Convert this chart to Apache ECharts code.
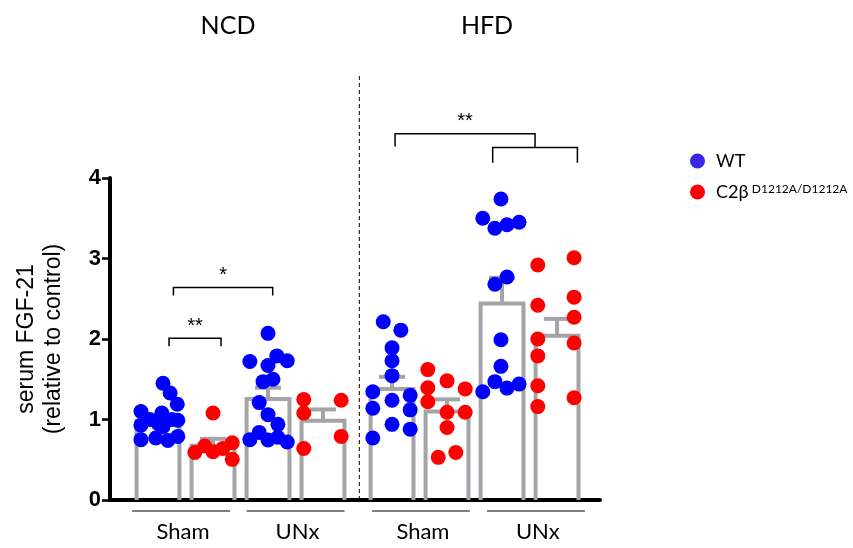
<!DOCTYPE html>
<html>
<head>
<meta charset="utf-8">
<script src="https://cdn.jsdelivr.net/npm/echarts@6/dist/echarts.min.js"></script>
<style>
  html, body { margin: 0; padding: 0; background: #fff; }
  #main { width: 853px; height: 548px; }
</style>
</head>
<body>
<div id="main"></div>
<script>
// groups, left to right: NCD Sham WT, NCD Sham C2b, NCD UNx WT, NCD UNx C2b, HFD ...
var diets = ['NCD', 'HFD'];
var surgeries = ['Sham', 'UNx', 'Sham', 'UNx'];
var genotypes = ['WT', 'C2β'];

// bar heights (mean) and error (sem)
var means = [0.98, 0.675, 1.255, 0.985, 1.38, 1.10, 2.44, 2.04];
var sems  = [0.07, 0.085, 0.14, 0.14, 0.15, 0.15, 0.32, 0.21];

// individual animals per group
var g1 = [1.45, 1.33, 1.19, 1.10, 1.00, 1.08, 0.93, 0.91, 1.00, 0.99, 0.95, 0.75, 0.77, 0.74, 0.79];
var g2 = [1.08, 0.59, 0.67, 0.60, 0.64, 0.71, 0.505];
var g3 = [2.07, 1.72, 1.79, 1.73, 1.67, 1.47, 1.50, 1.21, 1.06, 0.94, 0.75, 0.84, 0.745, 0.78, 0.72];
var g4 = [1.25, 1.24, 1.08, 0.79, 0.64];
var g5 = [2.215, 2.11, 1.89, 1.73, 1.545, 1.345, 1.30, 1.24, 1.14, 1.12, 0.94, 0.88, 0.77];
var g6 = [1.62, 1.48, 1.38, 1.395, 1.22, 1.09, 1.09, 0.90, 0.53, 0.59];
var g7 = [3.74, 3.50, 3.375, 3.42, 3.45, 2.68, 2.77, 1.99, 1.66, 1.47, 1.345, 1.39, 1.44];
var g8 = [2.92, 3.01, 2.42, 2.52, 2.27, 2.00, 1.95, 1.79, 1.42, 1.16, 1.27];

// horizontal scatter of each dot (in bar widths)
var j1 = [0.09, 0.22, 0.35, -0.31, -0.15, 0.07, -0.31, 0.09, 0.25, 0.36, 0, -0.31, -0.04, 0.18, 0.36];
var j2 = [0, -0.33, -0.15, 0, 0.18, 0.35, 0.35];
var j3 = [0, -0.33, 0.16, 0.35, 0, -0.09, 0.09, -0.16, 0, 0.18, -0.33, -0.16, 0, 0.18, 0.35];
var j4 = [-0.35, 0.33, -0.35, 0.33, -0.35];
var j5 = [-0.16, 0.16, 0, 0, 0, -0.35, 0.33, 0, -0.35, 0.33, 0, 0.33, -0.35];
var j6 = [-0.35, 0, 0.33, -0.35, -0.35, 0, 0.33, 0, -0.16, 0.16];
var j7 = [-0.02, -0.35, -0.13, 0.09, 0.31, -0.13, 0.09, -0.02, -0.02, -0.13, -0.35, 0.09, 0.31];
var j8 = [-0.35, 0.31, -0.35, 0.31, 0.31, -0.35, 0.31, -0.35, -0.35, -0.35, 0.31];

var points = [g1, g2, g3, g4, g5, g6, g7, g8];
var jitter = [j1, j2, j3, j4, j5, j6, j7, j8];

// significance brackets: x from bar, x to bar, height, label
var sig = [
  { from: 0.2, to: 1.145, y: 2.01, drop: 0.1, label: '**' },
  { from: 0.28, to: 2.085, y: 2.64, drop: 0.1, label: '*' },
  { from: 6.085, to: 7.625, y: 4.38, drop: 0.19, label: '' },
  { from: 4.31, to: 6.855, y: 4.55, drop: 0.16, label: '**', dropRight: 0.17 }
];

var gray = '#a4a4a8';
var gap = 0.255;      // extra space between diets
var barHalf = 0.39;
function xPos(i) { return i + (i >= 4 ? gap : 0); }

var barData = [], wtData = [], koData = [];
for (var i = 0; i < means.length; i++) {
  barData.push([xPos(i), means[i], sems[i]]);
  for (var k = 0; k < points[i].length; k++) {
    var pt = [xPos(i) + jitter[i][k], points[i][k]];
    if (i % 2 === 0) wtData.push(pt); else koData.push(pt);
  }
}

function renderBar(params, api) {
  var x = api.value(0), m = api.value(1), s = api.value(2);
  var a = api.coord([x - barHalf, 0]);
  var b = api.coord([x + barHalf, m]);
  var c = api.coord([x, m]);
  var e = api.coord([x, m + s]);
  var ls = { stroke: gray, lineWidth: 4, fill: 'none' };
  return {
    type: 'group',
    children: [
      { type: 'polyline', shape: { points: [[a[0], a[1]], [a[0], b[1]], [b[0], b[1]], [b[0], a[1]]] }, style: ls },
      { type: 'line', shape: { x1: c[0], y1: c[1], x2: e[0], y2: e[1] }, style: ls },
      { type: 'line', shape: { x1: e[0] - 13, y1: e[1], x2: e[0] + 13, y2: e[1] }, style: ls }
    ]
  };
}

// brackets, group lines under the axis, dashed divider
function renderNotes(params, api) {
  if (params.dataIndex > 0) return;
  var kids = [];
  var ln = { stroke: '#000', lineWidth: 1.5, fill: 'none' };
  sig.forEach(function (s) {
    var l = api.coord([s.from, s.y]), r = api.coord([s.to, s.y]);
    var lb = api.coord([s.from, s.y - s.drop]);
    var rb = api.coord([s.to, s.y - (s.dropRight || s.drop)]);
    kids.push({ type: 'polyline', shape: { points: [[lb[0], lb[1]], [l[0], l[1]], [r[0], r[1]], [rb[0], rb[1]]] }, style: ln });
    if (s.label) {
      kids.push({ type: 'text', x: (l[0] + r[0]) / 2, y: l[1] - 2,
        style: { text: s.label, align: 'center', verticalAlign: 'bottom', fill: '#000', font: '20px "Liberation Sans", Arial' } });
    }
  });
  var mids = [0.42, 2.5, 4.78, 6.87];
  surgeries.forEach(function (name, i) {
    var p = api.coord([mids[i], 0]);
    kids.push({ type: 'line', shape: { x1: p[0] - 49, y1: p[1] + 11, x2: p[0] + 49, y2: p[1] + 11 }, style: { stroke: '#000', lineWidth: 1 } });
    kids.push({ type: 'text', x: p[0] + 2, y: p[1] + 32,
      style: { text: name, align: 'center', verticalAlign: 'middle', fill: '#000', font: '22px Lato' } });
  });
  var d0 = api.coord([3.66, 0]), d1 = api.coord([3.66, 5.28]);
  kids.push({ type: 'line', shape: { x1: d0[0], y1: d0[1], x2: d1[0], y2: d1[1] }, style: { stroke: '#000', lineWidth: 1, lineDash: [4, 3] } });
  return { type: 'group', children: kids };
}

var myChart = echarts.init(document.getElementById('main'));
var option = {
  animation: false,
  backgroundColor: '#fff',
  title: [
    { text: diets[0], left: 223, top: 8, textAlign: 'center', textStyle: { fontFamily: 'Lato', fontSize: 25, fontWeight: 'normal', color: '#000' } },
    { text: diets[1], left: 482, top: 8, textAlign: 'center', textStyle: { fontFamily: 'Lato', fontSize: 25, fontWeight: 'normal', color: '#000' } }
  ],
  legend: {
    orient: 'vertical',
    left: 685,
    top: 147,
    itemWidth: 15,
    itemHeight: 15,
    itemGap: 13,
    icon: 'circle',
    data: [
      { name: genotypes[0], itemStyle: { color: '#3a26e8' } },
      { name: genotypes[1], itemStyle: { color: '#ff0000' } }
    ],
    formatter: function (name) {
      return name === 'WT' ? '{m|WT}' : '{m|C2β} {s|D1212A/D1212A}';
    },
    textStyle: {
      padding: [0, 0, 0, 6],
      rich: {
        m: { fontFamily: 'Lato', fontSize: 18, color: '#000' },
        s: { fontFamily: 'Lato', fontSize: 12, color: '#000', verticalAlign: 'top', padding: [0, 0, 6, 0] }
      }
    }
  },
  graphic: [{
    type: 'text',
    x: 40,
    y: 339,
    rotation: Math.PI / 2,
    style: {
      text: 'serum FGF-21\n(relative to control)',
      align: 'center',
      verticalAlign: 'middle',
      font: '23px "Liberation Sans", Arial',
      lineHeight: 27,
      fill: '#000'
    }
  }],
  grid: { left: 110, right: 253, top: 178, bottom: 48, containLabel: false },
  xAxis: {
    type: 'value',
    min: -0.873,
    max: 8.036,
    axisLine: { show: true, onZero: false, lineStyle: { color: '#000', width: 4 } },
    axisTick: { show: false },
    axisLabel: { show: false },
    splitLine: { show: false }
  },
  yAxis: {
    type: 'value',
    min: 0,
    max: 4,
    interval: 1,
    axisLine: { show: true, onZero: false, lineStyle: { color: '#000', width: 4 } },
    axisTick: { show: true, length: 8, lineStyle: { color: '#000', width: 2.5 } },
    axisLabel: { color: '#000', fontSize: 22, fontWeight: 'bold', fontFamily: 'Liberation Sans', margin: 9 },
    splitLine: { show: false }
  },
  series: [
    { name: 'bars', type: 'custom', renderItem: renderBar, data: barData, z: 1, silent: true },
    { name: genotypes[0], type: 'scatter', data: wtData, symbolSize: 15, itemStyle: { color: '#0000ff', opacity: 1 }, z: 3 },
    { name: genotypes[1], type: 'scatter', data: koData, symbolSize: 15, itemStyle: { color: '#ff0000', opacity: 1 }, z: 3 },
    { name: 'notes', type: 'custom', renderItem: renderNotes, data: [[0, 0]], clip: false, silent: true, z: 2 }
  ]
};
myChart.setOption(option);
</script>
</body>
</html>
